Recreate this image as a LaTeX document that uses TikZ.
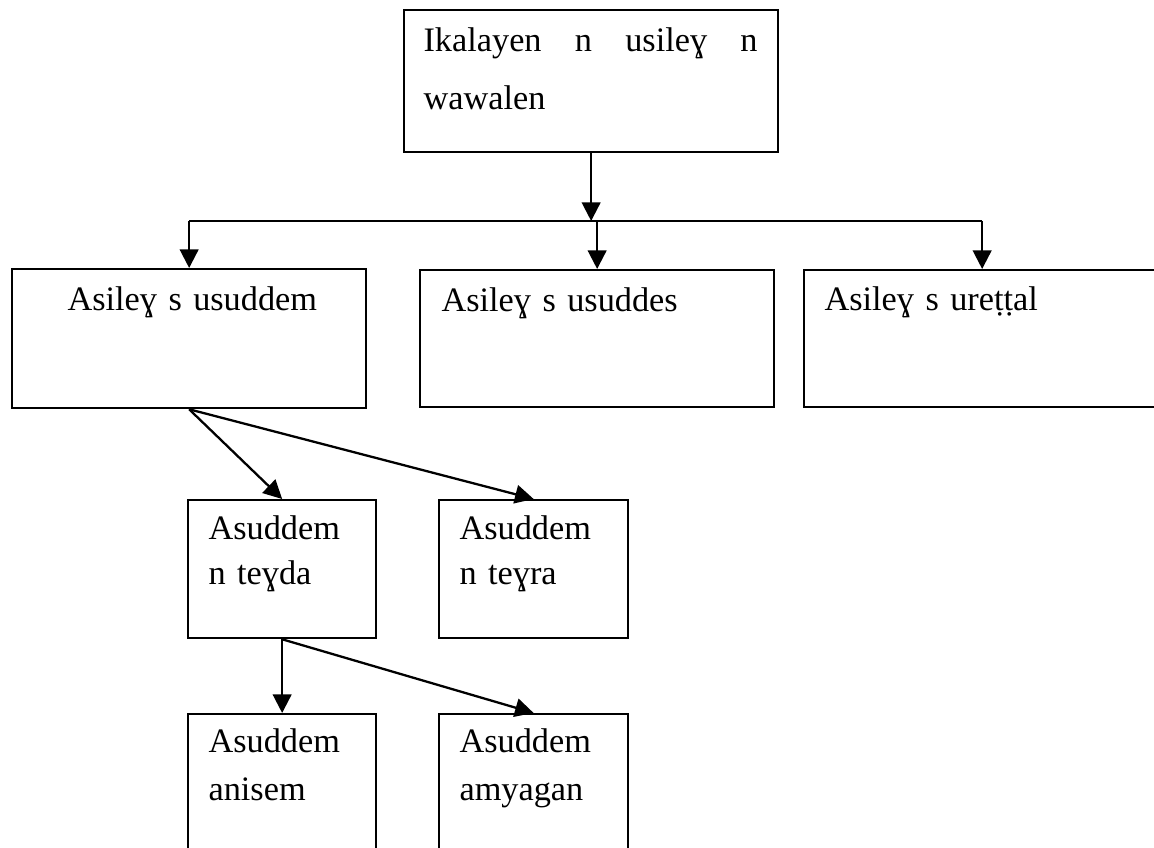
\documentclass[tikz,border=0pt]{standalone}
\usepackage{fontspec}
\setmainfont{Liberation Serif}
\usepackage{tikz}
\usetikzlibrary{arrows.meta,positioning}
\pgfdeclarelayer{edgelayer}
\pgfdeclarelayer{nodelayer}
\pgfsetlayers{edgelayer,nodelayer,main}
\tikzstyle{box}=[rectangle,draw=black,line width=0.8pt,inner sep=0pt,anchor=north west]
\tikzstyle{boxtext}=[inner sep=0pt,anchor=base west,align=left,font=\fontsize{12}{15.75}\selectfont]
\tikzstyle{inarrow}=[-{Triangle[length=6.5pt,width=6.5pt]},line width=0.8pt]
\tikzstyle{simple}=[-,line width=0.8pt]
\tikzstyle{none}=[inner sep=0pt]

\begin{document}
\begin{tikzpicture}[x=35pt,y=35pt]
	\useasboundingbox (0,0) rectangle (11.54,8.48);
	\begin{pgfonlayer}{nodelayer}
		\clip (0,0) rectangle (11.54,8.48);
		\node [style=box, minimum width=130.9pt, minimum height=49.7pt] (top) at (4.03,8.39) {};
		\node [style=boxtext, text width=116.9pt, font=\fontsize{12}{20.3}\selectfont] (ttop) at (4.23,7.96) {Ikalayen\hfill n\hfill usileɣ\hfill n\\wawalen};

		\node [style=box, minimum width=123.9pt, minimum height=48.65pt] (sdm) at (0.11,5.80) {};
		\node [style=boxtext, text width=110pt] (tsdm) at (0.67,5.37) {Asileɣ s usuddem};
		\node [style=box, minimum width=123.9pt, minimum height=47.95pt] (sds) at (4.19,5.79) {};
		\node [style=boxtext, text width=110pt] (tsds) at (4.41,5.36) {Asileɣ s usuddes};
		\node [style=box, minimum width=124.6pt, minimum height=47.95pt] (rtl) at (8.03,5.79) {};
		\node [style=boxtext, text width=110pt] (trtl) at (8.24,5.37) {Asileɣ s ureṭṭal};

		\node [style=box, minimum width=65.8pt, minimum height=48.3pt] (tyd) at (1.87,3.49) {};
		\node [style=boxtext, text width=60pt] (ttyd) at (2.08,3.08) {Asuddem\\n teɣda};
		\node [style=box, minimum width=66.15pt, minimum height=48.3pt] (tyr) at (4.38,3.49) {};
		\node [style=boxtext, text width=60pt] (ttyr) at (4.59,3.08) {Asuddem\\n teɣra};

		\node [style=box, minimum width=65.8pt, minimum height=48.3pt] (nsm) at (1.87,1.35) {};
		\node [style=boxtext, text width=60pt, font=\fontsize{12}{16.5}\selectfont] (tnsm) at (2.08,0.95) {Asuddem\\anisem};
		\node [style=box, minimum width=66.15pt, minimum height=48.3pt] (myg) at (4.38,1.35) {};
		\node [style=boxtext, text width=60pt, font=\fontsize{12}{16.5}\selectfont] (tmyg) at (4.59,0.95) {Asuddem\\amyagan};

		\coordinate (bus) at (5.90,6.27);
	\end{pgfonlayer}
	\begin{pgfonlayer}{edgelayer}
		\draw [style=inarrow] (top.south) to (top.south |- bus);
		\draw [style=simple] (sdm.north |- bus) to (rtl.north |- bus);
		\draw [style=inarrow] (sdm.north |- bus) to (sdm.north);
		\draw [style=inarrow] (sds.north |- bus) to (sds.north);
		\draw [style=inarrow] (rtl.north |- bus) to (rtl.north);
		\draw [style=inarrow] (sdm.south) to (tyd.north);
		\draw [style=inarrow] (sdm.south) to (tyr.north);
		\draw [style=inarrow] (tyd.south) to (nsm.north);
		\draw [style=inarrow] (tyd.south) to (myg.north);
	\end{pgfonlayer}
\end{tikzpicture}
\end{document}
